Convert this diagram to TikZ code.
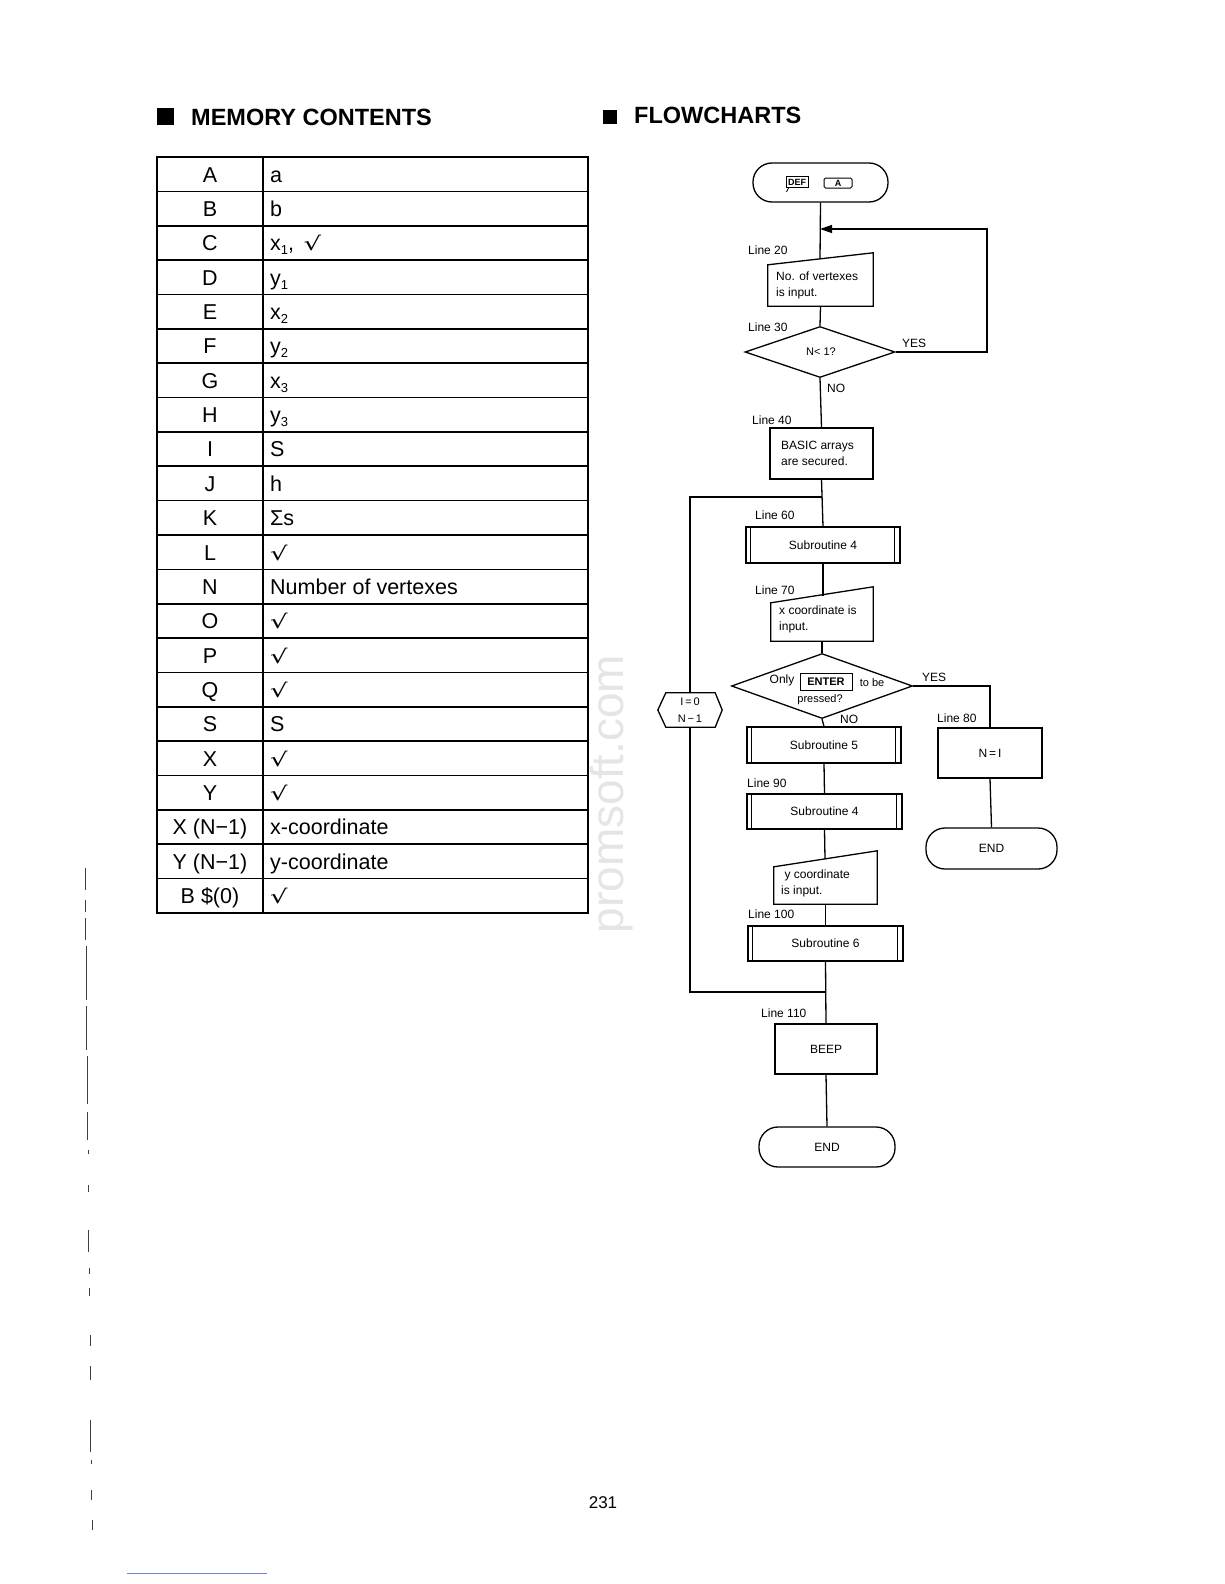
\documentclass[tikz,border=0pt]{standalone}
\usepackage{fontspec}
\setmainfont{Liberation Sans}
\newfontfamily\dvs{DejaVu Sans}
\usetikzlibrary{shapes.geometric,arrows.meta,calc}
\newcommand\fcf{\fontsize{12}{16}\selectfont}
\newcommand\tfnt{\fontsize{21.5}{24}\selectfont}
\newcommand\sbs[1]{\raisebox{-4pt}{\fontsize{13}{13}\selectfont #1}}
\newcommand\chk{\scalebox{1.45}[1.0]{\dvs\fontsize{19}{19}\selectfont √}}
\tikzset{
  fl/.style={line width=1.3pt},
  tl/.style={line width=1.6pt},
  proc/.style={draw, line width=1.3pt, rectangle, inner sep=0pt, font=\fcf, align=center},
  ghost/.style={rectangle, inner sep=0pt},
  term/.style={draw, line width=1.3pt, rectangle, rounded corners=19pt, inner sep=0pt, font=\fcf},
  dec/.style={draw, line width=1.3pt, diamond, inner sep=0pt},
  lbl/.style={anchor=west, inner sep=0pt, font=\fcf},
  txt/.style={inner sep=0pt, font=\fcf, align=left},
  keyb/.style={draw, line width=1pt, inner sep=1pt, font=\bfseries\fontsize{9}{9}\selectfont},
  lcell/.style={anchor=base, inner sep=0pt, font=\tfnt},
  rcell/.style={anchor=base west, inner sep=0pt, font=\tfnt},
  head/.style={anchor=base west, inner sep=0pt, font=\bfseries\fontsize{23.5}{26}\selectfont},
  scan/.style={line width=0.8pt, black!75}
}
\begin{document}
\begin{tikzpicture}[x=1pt,y=-1pt]
\useasboundingbox (0,0) rectangle (1224,1584);
\fill[white] (0,0) rectangle (1224,1584);

% watermark
\node[rotate=90, text=black!10, inner sep=0pt, font=\fontsize{46}{46}\selectfont] (wm) at (612,794) {promsoft.com};

% headings
\fill (157,108) rectangle (174,125);
\node[head] (h1) at (191,125) {MEMORY CONTENTS};
\fill (603,110) rectangle (617,124);
\node[head] (h2) at (634,124) {FLOWCHARTS};

% table
\draw[tl] (157,157) rectangle (588,913);
\draw[tl] (263,157) -- (263,913);
\foreach \i in {1,...,21} {
  \draw[tl] (157,157+\i*34.364) -- (588,157+\i*34.364);
}
\foreach \k/\l/\v in {0/A/a, 1/B/b, 2/C/{x\sbs{1}, \,\chk}, 3/D/{y\sbs{1}}, 4/E/{x\sbs{2}}, 5/F/{y\sbs{2}},
  6/G/{x\sbs{3}}, 7/H/{y\sbs{3}}, 8/I/S, 9/J/h, 10/K/{Σs}, 11/L/\chk, 12/N/{Number of vertexes},
  13/O/\chk, 14/P/\chk, 15/Q/\chk, 16/S/S, 17/X/\chk, 18/Y/\chk, 19/{X (N−1)}/x-coordinate,
  20/{Y (N−1)}/y-coordinate, 21/{B \$(0)}/\chk} {
  \node[lcell] (L\k) at (210,157+\k*34.364+25) {\l};
  \node[rcell] (R\k) at (270,157+\k*34.364+25) {\v};
}

% ---------- flowchart ----------
\node[term, minimum width=135pt, minimum height=39pt] (start) at (820.5,182.5) {};
\node[keyb, minimum width=22pt, minimum height=11pt] (defk) at (797,182) {DEF};
\draw[line width=0.8pt] ($(defk.south west)+(3,0)$) -- ++(-2,4);
\node[keyb, minimum width=28pt, minimum height=10pt, rounded corners=1.5pt] (akey) at (838,183) {A};

\node[lbl] (l20) at (748,250) {Line 20};
\node[ghost, minimum width=105pt, minimum height=53pt] (in1) at (820.5,279.5) {};
\draw[fl] ($(in1.north west)+(0,12)$) -- (in1.north east) -- (in1.south east) -- (in1.south west) -- cycle;
\node[txt, anchor=west] (in1t1) at (776,285) {No. of vertexes\\is input.};
\coordinate (in1t) at (820,259);

\node[lbl] (l30) at (748,327) {Line 30};
\node[dec, minimum width=150pt, minimum height=51pt] (dia1) at (820,352) {};
\node[inner sep=0pt, font=\fontsize{11}{11}\selectfont] (dia1t) at (821,352) {N< 1?};
\node[lbl] (yes1) at (902,343) {YES};
\node[lbl] (no1) at (827,388) {NO};

\node[lbl] (l40) at (752,420) {Line 40};
\node[proc, minimum width=103pt, minimum height=51pt] (basic) at (821.5,453.5) {};
\node[txt, anchor=west] (basict) at (781,453.5) {BASIC arrays\\are secured.};

\node[lbl] (l60) at (755,515) {Line 60};
\node[proc, minimum width=154pt, minimum height=36pt] (s4a) at (823,545) {Subroutine 4};

\node[lbl] (l70) at (755,590) {Line 70};
\node[ghost, minimum width=102pt, minimum height=54pt] (xin) at (822,614) {};
\draw[fl] ($(xin.north west)+(0,16)$) -- (xin.north east) -- (xin.south east) -- (xin.south west) -- cycle;
\node[txt, anchor=west] (xint1) at (779,619) {x coordinate is\\input.};
\coordinate (xint) at (823,596);

\node[dec, minimum width=181pt, minimum height=65pt] (dia2) at (822,686) {};
\node[inner sep=0pt, font=\fcf] (only) at (782,680) {Only};
\node[keyb, font=\bfseries\fontsize{11}{11}\selectfont, minimum width=52pt, minimum height=17pt] (enter) at (826,681.5) {ENTER};
\node[inner sep=0pt, font=\fontsize{11}{11}\selectfont] (tobe) at (872,683) {to be};
\node[inner sep=0pt, font=\fontsize{11}{11}\selectfont] (pressed) at (820,700) {pressed?};
\node[lbl] (yes2) at (922,677) {YES};
\node[lbl] (no2) at (840,719) {NO};

\node[lbl] (l80) at (937,718) {Line 80};
\node[proc, minimum width=104pt, minimum height=50pt] (ni) at (990,753) {N\,=\,I};
\node[term, minimum width=131pt, minimum height=41pt] (end2) at (991.5,848.5) {END};

\node[proc, minimum width=154pt, minimum height=36pt] (s5) at (824,745) {Subroutine 5};

\node[lbl] (l90) at (747,783) {Line 90};
\node[proc, minimum width=155pt, minimum height=35pt] (s4b) at (824.5,811.5) {Subroutine 4};

\node[ghost, minimum width=103pt, minimum height=53pt] (yin) at (825.5,877.5) {};
\draw[fl] ($(yin.north west)+(0,16)$) -- (yin.north east) -- (yin.south east) -- (yin.south west) -- cycle;
\node[txt, anchor=west] (yint1) at (781,883) {\ y coordinate\\is input.};
\coordinate (yint) at (825,859);

\node[lbl] (l100) at (748,914) {Line 100};
\node[proc, minimum width=155pt, minimum height=35pt] (s6) at (825.5,943.5) {Subroutine 6};

\node[lbl] (l110) at (761,1013) {Line 110};
\node[proc, minimum width=102pt, minimum height=50pt] (beep) at (826,1049) {BEEP};
\node[term, minimum width=136pt, minimum height=40pt] (end1) at (827,1147) {END};

% loop limit hexagon
\node[ghost, minimum width=64pt, minimum height=34pt] (hex) at (690,710) {};
\draw[fl] (hex.west) -- ($(hex.north west)+(8,0)$) -- ($(hex.north east)+(-7,0)$) -- (hex.east)
  -- ($(hex.south east)+(-7,0)$) -- ($(hex.south west)+(8,0)$) -- cycle;
\node[inner sep=0pt, align=center, font=\fontsize{11}{17}\selectfont] (hext) at (690,710) {I\,=\,0\\N\,−\,1};

% subroutine bars
\foreach \n in {s4a,s5,s4b,s6} {
  \draw[fl] ($(\n.north west)+(5,0)$) -- ($(\n.south west)+(5,0)$);
  \draw[fl] ($(\n.north east)+(-6,0)$) -- ($(\n.south east)+(-6,0)$);
}

% connectors
\coordinate (lr2) at (987,229);
\coordinate (lj) at (820,229);
\coordinate (jtop) at (822,497);
\coordinate (jbot) at (826,992);
\draw[fl] (start.south) -- (in1t);
\draw[fl] (in1.south) -- (dia1.north);
\draw[fl] (dia1.south) -- (basic.north);
\draw[fl] (basic.south) -- (s4a.north);
\draw[fl] (s4a.south) -- (xint);
\draw[fl] (xin.south) -- (dia2.north);
\draw[fl] (dia2.south) -- (s5.north);
\draw[fl] (s5.south) -- (s4b.north);
\draw[fl] (s4b.south) -- (yint);
\draw[fl] (yin.south) -- (s6.north);
\draw[fl] (s6.south) -- (beep.north);
\draw[fl] (beep.south) -- (end1.north);
\draw[fl, -{Triangle[length=12pt,width=8pt]}] (dia1.east) -| (lr2) -- (lj);
\draw[fl] (jtop) -| (hex.north);
\draw[fl] (hex.south) |- (jbot);
\draw[fl] (dia2.east) -| (ni.north);
\draw[fl] (ni.south) -- (end2.north);

% page number
\node[inner sep=0pt, font=\fontsize{17}{17}\selectfont] (pg) at (603,1503) {231};

% scan artefacts at left margin and bottom rule
\foreach \a/\b/\c in {85/868/890, 85/900/912, 85/918/940, 86/946/1000, 86/1006/1050,
  87/1056/1104, 87/1112/1140, 88/1150/1154, 88/1185/1192, 88/1230/1252, 89/1268/1274,
  89/1288/1296, 90/1335/1346, 90/1366/1380, 90/1420/1452, 91/1460/1464, 91/1490/1500, 92/1520/1530} {
  \draw[scan] (\a,\b) -- (\a,\c);
}
\draw[line width=1pt, color={rgb,255:red,110;green,130;blue,220}] (127,1573) -- (267,1573);
\end{tikzpicture}
\end{document}
